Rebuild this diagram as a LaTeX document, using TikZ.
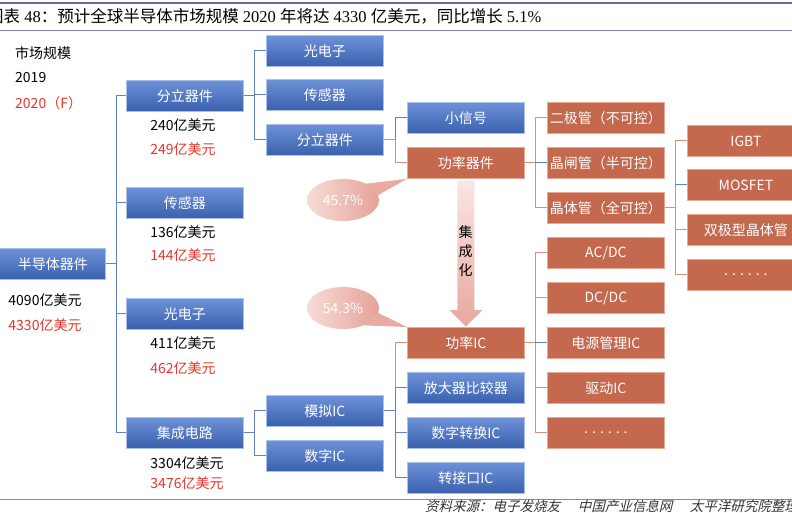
\documentclass[tikz,border=0pt]{standalone}
\usepackage{fontspec}
\setmainfont{Noto Sans CJK SC}
\newfontfamily\cjk{Noto Sans CJK SC}
\newfontfamily\serl{Liberation Serif}
\newfontfamily\cjkit[FakeSlant=0.25]{Noto Sans CJK SC}
\usetikzlibrary{calc,shapes.geometric}
\definecolor{btop}{HTML}{6E92D8}
\definecolor{bbot}{HTML}{3A60AE}
\definecolor{bedge}{HTML}{A8C0EA}
\definecolor{rfill}{HTML}{C4684E}
\definecolor{redge}{HTML}{E9A892}
\definecolor{bline}{HTML}{5F83C6}
\definecolor{sline}{HTML}{DC8F7C}
\definecolor{redtxt}{HTML}{E8352B}
\definecolor{rule}{HTML}{8484B8}
\definecolor{cl}{HTML}{F7DCD7}
\definecolor{cr}{HTML}{E6A198}
\newcommand{\mydots}{.\hspace{4pt}.\hspace{4pt}.\hspace{4pt}.\hspace{4pt}.\hspace{4pt}.}
\begin{document}
\begin{tikzpicture}[x=1pt,y=-1pt,
  box/.style={anchor=north west,minimum width=117pt,minimum height=31pt,inner sep=0pt,
    text=white,font=\cjk\fontsize{14}{14}\selectfont,line width=0.8pt},
  bluebox/.style={box,draw=bedge,top color=btop,bottom color=bbot},
  redbox/.style={box,draw=redge,fill=rfill},
  bl/.style={draw=bline,line width=1pt},
  sl/.style={draw=sline,line width=1pt},
  val/.style={font=\cjk\fontsize{14}{14}\selectfont,inner sep=0pt},
  rval/.style={val,text=redtxt},
  callout/.style={ellipse,minimum width=72pt,minimum height=42pt,inner sep=0pt,
    left color=cl,right color=cr,text=white,font=\cjk\fontsize{14}{14}\selectfont},
  ptr/.style={fill=cr!85!cl}
]
\useasboundingbox (0,0) rectangle (792,512);
\clip (0,0) rectangle (792,512);
\fill[white] (0,0) rectangle (792,512);

% rules and title
\draw[rule!80!black,line width=1.6pt] (0,3) -- (792,3);
\draw[rule,line width=0.8pt] (0,30) -- (792,30);
\draw[rule,line width=0.8pt] (0,499) -- (792,499);
\node[anchor=west,inner sep=0pt,font=\cjk\fontsize{16.5}{16.5}\selectfont] (title) at (-13,16)
 {图表{\serl\ 48}：预计全球半导体市场规模{\serl\ 2020 }年将达{\serl\ 4330 }亿美元，同比增长{\serl\ 5.1\%}};
\node[anchor=west,inner sep=0pt,font=\cjkit\fontsize{13.5}{13.5}\selectfont,text=black!80] (src) at (425,506)
 {资料来源：电子发烧友\hspace{1.3em}中国产业信息网\hspace{1.3em}太平洋研究院整理};

% legend
\node[val,anchor=west] (lg1) at (15,53) {市场规模};
\node[val,anchor=west] (lg2) at (15,78) {2019};
\node[rval,anchor=west] (lg3) at (15,103) {2020（F）};

% level 0
\node[bluebox] (root) at (-12,248) {\hspace*{12pt}半导体器件};
% level 1
\node[bluebox] (lb1) at (126,80) {分立器件};
\node[bluebox] (lb2) at (126,187) {传感器};
\node[bluebox] (lb3) at (126,298) {光电子};
\node[bluebox] (lb4) at (126,417) {集成电路};
% level 2
\node[bluebox] (m1) at (266,35) {光电子};
\node[bluebox] (m2) at (266,79) {传感器};
\node[bluebox] (m3) at (266,124) {分立器件};
\node[bluebox] (m4) at (266,395) {模拟IC};
\node[bluebox] (m5) at (266,440) {数字IC};
% level 3
\node[bluebox] (s1) at (407,102) {小信号};
\node[redbox] (s2) at (407,147) {功率器件};
\node[redbox] (s3) at (407,327) {功率IC};
\node[bluebox] (s4) at (407,372) {放大器比较器};
\node[bluebox] (s5) at (407,417) {数字转换IC};
\node[bluebox] (s6) at (407,462) {转接口IC};
% level 4
\node[redbox] (r1) at (547,102) {二极管（不可控）};
\node[redbox] (r2) at (547,147) {晶闸管（半可控）};
\node[redbox] (r3) at (547,192) {晶体管（全可控）};
\node[redbox] (r4) at (547,237) {AC/DC};
\node[redbox] (r5) at (547,282) {DC/DC};
\node[redbox] (r6) at (547,327) {电源管理IC};
\node[redbox] (r7) at (547,372) {驱动IC};
\node[redbox] (r8) at (547,417) {\mydots};
% level 5
\node[redbox] (t1) at (687,125) {IGBT};
\node[redbox] (t2) at (687,169) {MOSFET};
\node[redbox] (t3) at (687,214) {双极型晶体管};
\node[redbox] (t4) at (687,259) {\mydots};

% values
\node[val] (v0a) at (45,300) {4090亿美元};
\node[rval] (v0b) at (45,325) {4330亿美元};
\node[val] (v1a) at (183,125) {240亿美元};
\node[rval] (v1b) at (183,149) {249亿美元};
\node[val] (v2a) at (183,232) {136亿美元};
\node[rval] (v2b) at (183,255) {144亿美元};
\node[val] (v3a) at (183,343) {411亿美元};
\node[rval] (v3b) at (183,368) {462亿美元};
\node[val] (v4a) at (187,463) {3304亿美元};
\node[rval] (v4b) at (187,483) {3476亿美元};

% connectors
\foreach \c in {lb1,lb2,lb3,lb4} \draw[bl] (root.east) -| ([xshift=-10pt]\c.west) -- (\c.west);
\foreach \c in {m1,m2,m3} \draw[bl] (lb1.east) -| ([xshift=-12pt]\c.west) -- (\c.west);
\foreach \c in {m4,m5} \draw[bl] (lb4.east) -| ([xshift=-12pt]\c.west) -- (\c.west);
\draw[bl] (m3.east) -| ([xshift=-12pt]s1.west) -- (s1.west);
\draw[sl] (m3.east) -| ([xshift=-12pt]s2.west) -- (s2.west);
\foreach \c in {r1,r3} \draw[sl] (s2.east) -| ([xshift=-12pt]\c.west) -- (\c.west);
\draw[sl] (s2.east) -- ([xshift=-12pt]r2.west);
\draw[bl] ([xshift=-12pt]r2.west) -- (r2.west);
\foreach \c in {t1,t3,t4} \draw[sl] (r3.east) -| ([xshift=-12pt]\c.west) -- (\c.west);
\draw[sl] (r3.east) -| ([xshift=-12pt]t2.west);
\draw[bl] ([xshift=-12pt]t2.west) -- (t2.west);
\draw[sl] (m4.east) -| ([xshift=-12pt]s3.west) -- (s3.west);
\foreach \c in {s4,s5,s6} \draw[bl] (m4.east) -| ([xshift=-12pt]\c.west) -- (\c.west);
\foreach \c in {r4,r5,r7,r8} \draw[sl] (s3.east) -| ([xshift=-12pt]\c.west) -- (\c.west);
\draw[sl] (s3.east) -- ([xshift=-12pt]r6.west);
\draw[bl] ([xshift=-12pt]r6.west) -- (r6.west);

% big arrow
\shade[top color=cl!70!white,bottom color=cr!90!cl]
  ([xshift=-8.5pt,yshift=-2pt]s2.south) -- ([xshift=-8.5pt,yshift=17pt]s3.north)
  -- ([xshift=-16.5pt,yshift=17pt]s3.north) -- ([yshift=0.5pt]s3.north)
  -- ([xshift=16.5pt,yshift=17pt]s3.north) -- ([xshift=8.5pt,yshift=17pt]s3.north)
  -- ([xshift=8.5pt,yshift=-2pt]s2.south) -- cycle;
\node[align=center,inner sep=0pt,font=\cjk\fontsize{14}{19}\selectfont] (jch) at (465.5,251) {集\\成\\化};

% callouts
\node[callout] (c1) at (343,200) {45.7\%};
\fill[ptr] (c1.35) -- (s2.south west) -- (c1.8) -- cycle;
\node[callout] (c2) at (343,308) {54.3\%};
\fill[ptr] (c2.-8) -- (s3.north west) -- (c2.-40) -- cycle;
\end{tikzpicture}
\end{document}
